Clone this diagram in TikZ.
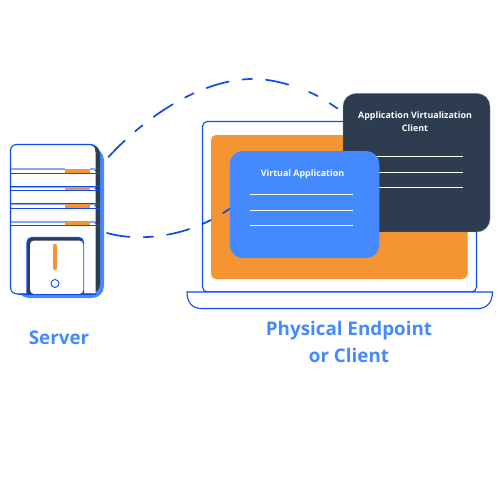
\documentclass[tikz,border=0pt]{standalone}
\usepackage{fontspec}
\setmainfont{Open Sans}
\definecolor{lblue}{HTML}{4589FF}
\definecolor{line}{HTML}{0F49F0}
\definecolor{navy}{HTML}{2E3C50}
\definecolor{orng}{HTML}{F49433}
\definecolor{slot}{HTML}{86A6FF}
\tikzset{
  outline/.style={draw=line,line width=1.1pt},
  link/.style={draw=line,line width=1.7pt,line cap=round,dash pattern=on 23pt off 14pt on 9.5pt off 14pt},
  linkshort/.style={draw=line,line width=1.7pt,line cap=round,dash pattern=on 9.5pt off 14pt},
  rule/.style={draw=white,line width=1pt},
  label/.style={text=white,font=\fontsize{8.9}{13}\selectfont\bfseries,align=center,inner sep=0pt},
  caption/.style={text=lblue,font=\fontsize{18.8}{27}\selectfont\bfseries,align=center,inner sep=0pt}
}
\begin{document}
\begin{tikzpicture}[x=1pt,y=-1pt]
\useasboundingbox (0,0) rectangle (500,500);
% laptop
\draw[outline,fill=white,rounded corners=5pt] (202.5,292) -- (202.5,121.5) -- (476.5,121.5) -- (476.5,292) -- cycle;
\fill[orng,rounded corners=5pt] (211,135) rectangle (467.5,279);
\draw[outline,fill=white] (187,292) -- (492.5,292) .. controls (492.5,303) and (486,308.5) .. (478,308.5) -- (201,308.5) .. controls (193,308.5) and (187,303) .. (187,292) -- cycle;
% links
\coordinate (s1) at (108.5,157);
\coordinate (m1) at (253,79);
\coordinate (m2) at (296,87);
\coordinate (m3) at (309,92);
\coordinate (e1) at (337.5,108.5);
\coordinate (s2) at (107,233);
\coordinate (e2) at (230,208.5);
\draw[link] (s1) .. controls (150,112) and (205,79) .. (m1) .. controls (268,79) and (283,82.5) .. (m2);
\draw[linkshort] (m3) .. controls (319,96) and (328,102) .. (e1);
\draw[link] (s2) .. controls (135,241) and (185,240) .. (e2);
% client
\node[fill=navy,draw=navy!60!white,line width=.4pt,rounded corners=13pt,minimum width=147pt,minimum height=138.5pt,inner sep=0pt] (client) at (416.5,162.7) {};
\node[label] (clientt) at (415,121.5) {Application Virtualization\\Client};
\draw[rule] (370,156.5) -- (463,156.5);
\draw[rule] (370,172) -- (463,172);
\draw[rule] (370,187) -- (463,187);
% virtual app
\node[fill=lblue,rounded corners=13pt,minimum width=149.5pt,minimum height=107pt,inner sep=0pt] (app) at (304.5,204.5) {};
\node[label] (appt) at (302.5,174) {Virtual Application};
\draw[rule] (250,194.5) -- (353,194.5);
\draw[rule] (250,210) -- (353,210);
\draw[rule] (250,225) -- (353,225);
% server
\fill[lblue,rounded corners=12pt] (17,148) rectangle (104,298);
\fill[navy,rounded corners=10pt] (40,144) rectangle (100,294);
\fill[white] (10.9,145) -- (90,145) .. controls (94,145) and (95.5,148) .. (95.5,152) -- (95.5,293.5) -- (11,293.5) -- cycle;
\draw[draw=line,line width=1.1pt] (96,294) -- (18,294) .. controls (13,294) and (10.5,291) .. (10.5,287) -- (10.5,151) .. controls (10.5,147) and (13,144.5) .. (17,144.5) -- (90,144.5) .. controls (94,144.5) and (96,147) .. (96,152);
\foreach \a/\b in {168/173.5,186/190.5,203/208,220.5/225.5}{
  \fill[slot] (11,\a) rectangle (65,\a+2);
  \fill[orng] (65,\a+.5) rectangle (90,\b);
  \fill[slot] (90,\a) rectangle (96,\a+2);
  \fill[navy] (94,\a+2) -- (98,\a+2) -- (98,\a+5) -- cycle;
  \draw[line,line width=.8pt] (10.5,\b) -- (100,\b);
}
\draw[draw=line,line width=.8pt] (10.5,186) -- (100,186);
\draw[draw=line,line width=.8pt] (10.5,203) -- (100,203);
\draw[draw=line,fill=navy,rounded corners=5pt,line width=1.4pt] (27,294) -- (27,237.5) -- (83.5,237.5) -- (83.5,294);
\fill[white,rounded corners=4pt] (30,294) -- (30,240.5) -- (83.3,240.5) -- (83.3,294) -- cycle;
\draw[draw=orng,line width=4.5pt,line cap=round] (55,246) -- (55,268);
\node[circle,draw=line,line width=.9pt,minimum size=8pt,inner sep=0pt] (led) at (55,283.5) {};
\draw[draw=line,line width=1pt] (18,294) -- (96,294);
% captions
\node[caption] (srv) at (59,338) {Server};
\node[caption] (ep) at (349,342) {Physical Endpoint\\or Client};
\end{tikzpicture}
\end{document}
